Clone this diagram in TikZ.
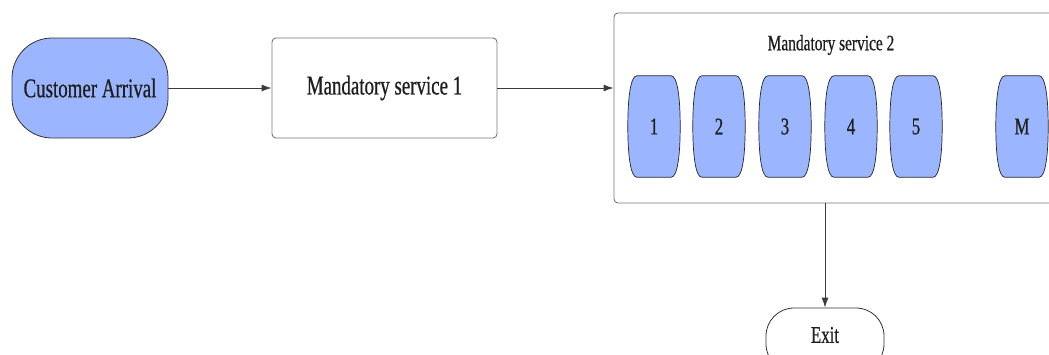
\documentclass[tikz,border=0pt]{standalone}
\usepackage{fontspec}
\setmainfont{Liberation Serif}[FakeStretch=0.7,FakeBold=0.6]
\usetikzlibrary{arrows.meta}
\definecolor{pillblue}{RGB}{155,181,255}
\definecolor{linegray}{RGB}{60,60,60}
\definecolor{boxgray}{RGB}{120,120,120}
\definecolor{txt}{RGB}{30,30,30}
\tikzset{
  conn/.style={draw=linegray, line width=1pt, -{Latex[length=10pt,width=7pt]}},
  startnode/.style={draw=black!80, line width=0.8pt, fill=pillblue, rounded corners=40pt,
    minimum width=156pt, minimum height=100pt, inner sep=0pt, text=txt, font=\fontsize{27}{30}\selectfont},
  servbox/.style={draw=boxgray, line width=0.9pt, fill=white, rounded corners=4pt,
    minimum width=225pt, minimum height=100pt, inner sep=0pt, text=txt, font=\fontsize{27}{30}\selectfont},
  bigbox/.style={draw=boxgray, line width=0.9pt, fill=white, rounded corners=4pt,
    minimum width=456pt, minimum height=190pt, inner sep=0pt},
  pill/.style={minimum width=52pt, minimum height=101pt, inner sep=0pt, text=txt,
    font=\fontsize{24}{28}\selectfont},
  exitnode/.style={draw=black!80, line width=0.8pt, fill=white, rounded corners=28pt,
    minimum width=118pt, minimum height=64pt, inner sep=0pt, text=txt, font=\fontsize{24}{28}\selectfont},
  lbl/.style={inner sep=0pt, text=txt, font=\fontsize{22}{26}\selectfont}
}
\begin{document}
\begin{tikzpicture}[x=1pt,y=-1pt]
\useasboundingbox (0,0) rectangle (1049,354);
\clip (0,0) rectangle (1049,354);
\node[startnode] (arr) at (90,88) {Customer Arrival};
\node[servbox] (ms1) at (384.5,88) {Mandatory service 1};
\node[bigbox] (ms2) at (842,108) {};
\node[lbl] (ms2lbl) at (831,45) {Mandatory service 2};
\foreach \n/\x in {1/654,2/719,3/785,4/851,5/916,M/1022}{
  \node[pill] (p\n) at (\x,126.5) {};
  \path[draw=black!85, line width=0.7pt, fill=pillblue]
    ([xshift=9pt]p\n.north west) -- ([xshift=-9pt]p\n.north east)
    .. controls ([xshift=-3pt]p\n.north east) and ([yshift=30pt]p\n.east) .. (p\n.east)
    .. controls ([yshift=-30pt]p\n.east) and ([xshift=-3pt]p\n.south east) .. ([xshift=-9pt]p\n.south east)
    -- ([xshift=9pt]p\n.south west)
    .. controls ([xshift=3pt]p\n.south west) and ([yshift=-30pt]p\n.west) .. (p\n.west)
    .. controls ([yshift=30pt]p\n.west) and ([xshift=3pt]p\n.north west) .. ([xshift=9pt]p\n.north west) -- cycle;
  \node[pill] at (p\n) {\n};
}
\node[exitnode] (exit) at (825,340) {};
\node[lbl, font=\fontsize{24}{28}\selectfont] (exitlbl) at (825,335) {Exit};
\draw[conn] (arr.east) -- (ms1.west);
\draw[conn] (ms1.east) -- (ms1.east -| ms2.west);
\draw[conn] (exit.north |- ms2.south) -- (exit.north);
\end{tikzpicture}
\end{document}
